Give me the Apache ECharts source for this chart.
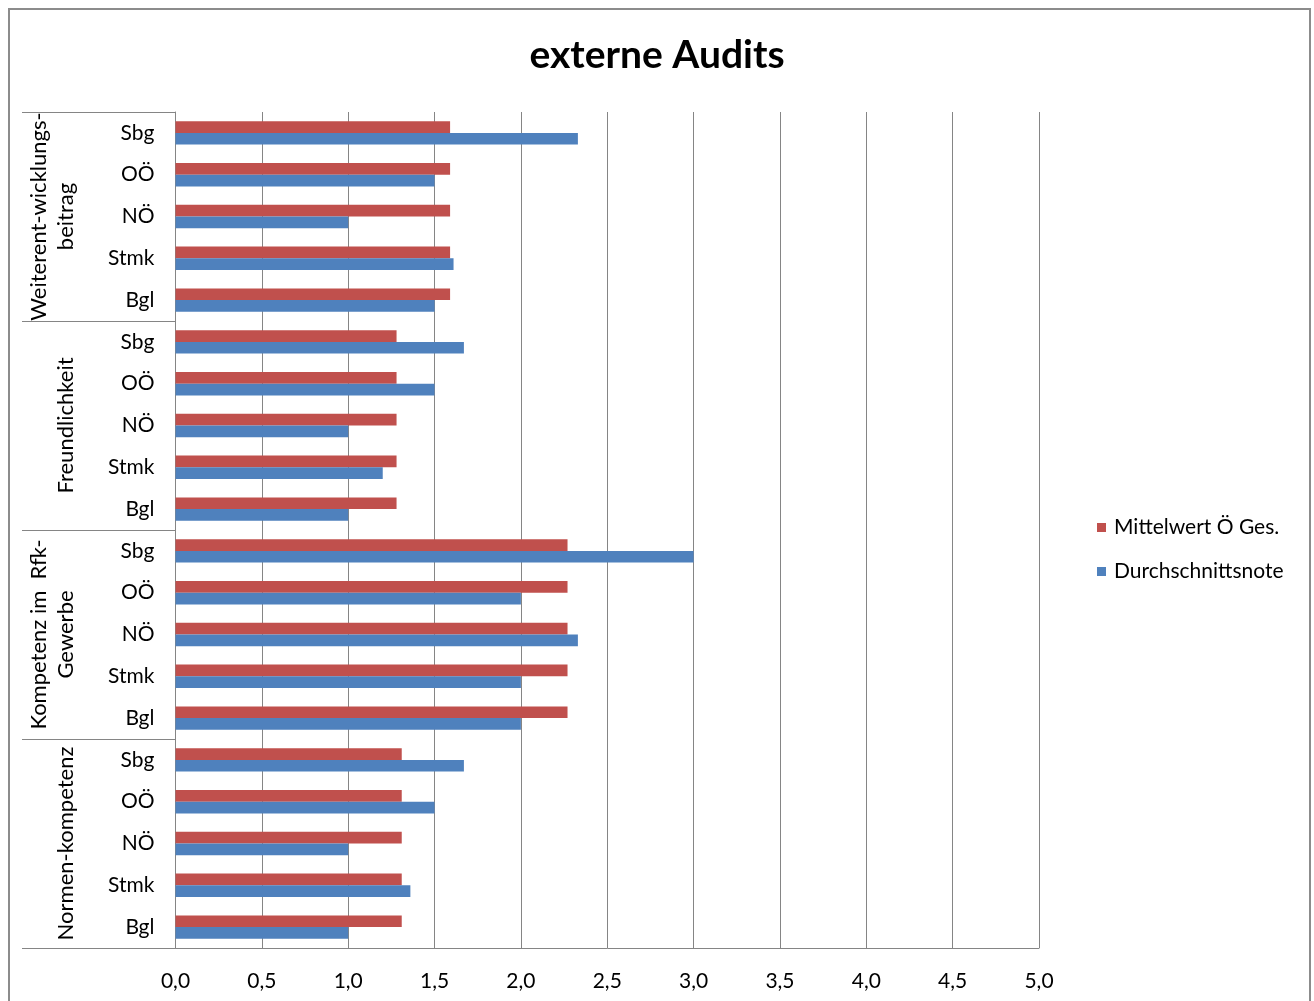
<!DOCTYPE html>
<html>
<head>
<meta charset="utf-8">
<script src="https://cdn.jsdelivr.net/npm/echarts@6/dist/echarts.min.js"></script>
<style>
  html, body { margin: 0; padding: 0; background: #fff; }
  #chart { width: 1314px; height: 1001px; }
</style>
</head>
<body>
<div id="chart"></div>
<script>
// Bundeslaender within each question block, bottom to top
const regions = ['Bgl', 'Stmk', 'NÖ', 'OÖ', 'Sbg'];

// Question blocks, bottom to top (line breaks as wrapped in the axis)
const groupLabels = [
  'Normen-kompetenz',
  'Kompetenz im  Rfk-\nGewerbe',
  'Freundlichkeit',
  'Weiterent-wicklungs-\nbeitrag'
];

// Austria-wide mean per row (same within a block)
const mittelwert = [
  1.31, 1.31, 1.31, 1.31, 1.31,
  2.27, 2.27, 2.27, 2.27, 2.27,
  1.28, 1.28, 1.28, 1.28, 1.28,
  1.59, 1.59, 1.59, 1.59, 1.59
];

// Average grade per Bundesland
const durchschnitt = [
  1.0, 1.36, 1.0, 1.5, 1.67,
  2.0, 2.0, 2.33, 2.0, 3.0,
  1.0, 1.2, 1.0, 1.5, 1.67,
  1.5, 1.61, 1.0, 1.5, 2.33
];

const seriesNames = ['Mittelwert Ö Ges.', 'Durchschnittsnote'];
const xTicks = { min: 0, max: 5, step: 0.5 };

// Unique row keys: "<block>|<region>"
const rowKeys = [];
groupLabels.forEach(function (g, gi) {
  regions.forEach(function (r) { rowKeys.push(gi + '|' + r); });
});

const FONT = 'Lato';
const GRAY = '#858585';

const chart = echarts.init(document.getElementById('chart'), null, { renderer: 'canvas' });

chart.setOption({
  backgroundColor: '#ffffff',
  animation: false,
  textStyle: { fontFamily: FONT },
  title: {
    text: 'externe Audits',
    left: 'center',
    top: 31,
    textStyle: { fontFamily: FONT, fontWeight: 'bold', fontSize: 39, color: '#000' }
  },
  legend: {
    orient: 'vertical',
    left: 1092,
    top: 512,
    itemWidth: 9,
    itemHeight: 9,
    itemGap: 23,
    icon: 'rect',
    data: seriesNames,
    textStyle: { fontFamily: FONT, fontSize: 21, color: '#000', padding: [0, 0, 0, 3], lineHeight: 21 }
  },
  grid: { left: 175.5, right: 275, top: 112, bottom: 53 },
  xAxis: {
    type: 'value',
    min: xTicks.min,
    max: xTicks.max,
    interval: xTicks.step,
    axisLine: { show: true, lineStyle: { color: GRAY, width: 1 } },
    axisTick: { show: false },
    splitLine: { show: true, lineStyle: { color: GRAY, width: 1 } },
    axisLabel: {
      margin: 23,
      fontFamily: FONT,
      fontSize: 21,
      color: '#000',
      formatter: function (v) { return v.toFixed(1).replace('.', ','); }
    }
  },
  yAxis: [
    {
      type: 'category',
      data: rowKeys,
      position: 'left',
      axisLine: { show: true, lineStyle: { color: GRAY, width: 1 } },
      axisTick: { show: false },
      splitLine: { show: false },
      axisLabel: {
        interval: 0,
        margin: 21,
        fontFamily: FONT,
        fontSize: 21,
        color: '#000',
        formatter: function (v) { return v.split('|')[1]; }
      }
    },
    {
      type: 'category',
      data: groupLabels,
      position: 'left',
      axisLine: { show: false },
      axisTick: {
        show: true,
        interval: 0,
        length: 153.5,
        lineStyle: { color: GRAY, width: 1 }
      },
      splitLine: { show: false },
      axisLabel: {
        interval: 0,
        rotate: 90,
        margin: 96,
        fontFamily: FONT,
        fontSize: 22,
        lineHeight: 27,
        color: '#000'
      }
    }
  ],
  series: [
    {
      name: seriesNames[0],
      type: 'bar',
      yAxisIndex: 0,
      data: mittelwert,
      itemStyle: { color: '#C0504D' },
      barGap: '0%',
      barCategoryGap: '44%'
    },
    {
      name: seriesNames[1],
      type: 'bar',
      yAxisIndex: 0,
      data: durchschnitt,
      itemStyle: { color: '#4F81BD' },
      barGap: '0%',
      barCategoryGap: '44%'
    }
  ],
  graphic: [
    {
      type: 'rect',
      silent: true,
      shape: { x: 9, y: 9, width: 1301, height: 1010 },
      style: { fill: 'none', stroke: '#8c8c8c', lineWidth: 2 }
    }
  ]
});
</script>
</body>
</html>
